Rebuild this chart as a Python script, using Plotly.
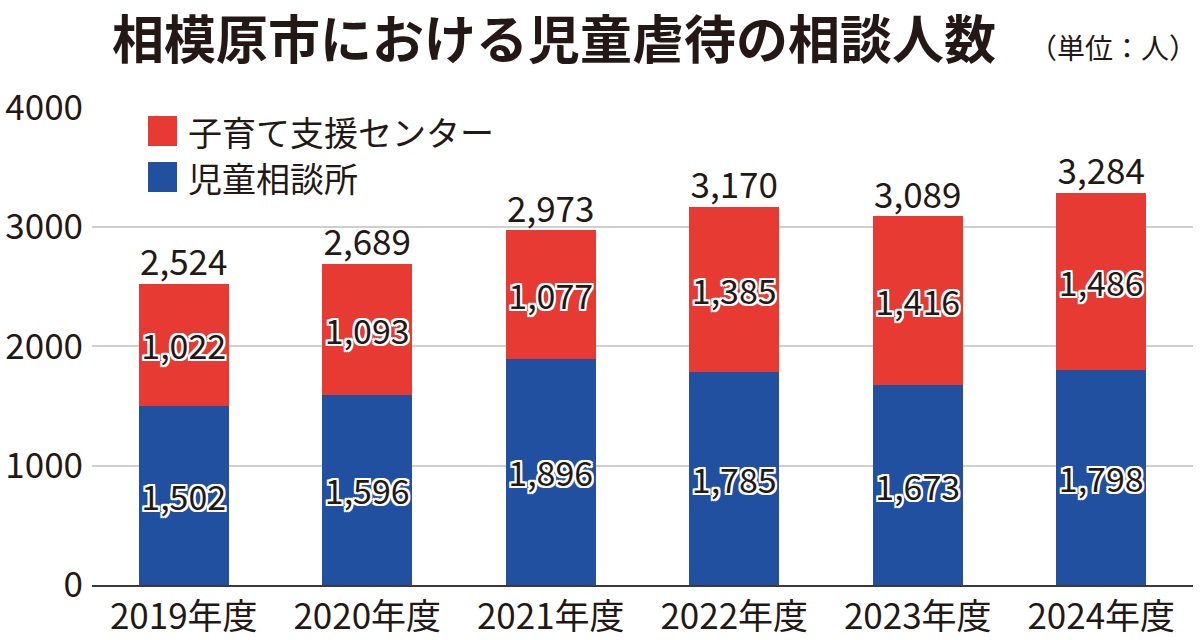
import plotly.graph_objects as go

# data
years = ['2019年度', '2020年度', '2021年度', '2022年度', '2023年度', '2024年度']
jidou_soudanjo = [1502, 1596, 1896, 1785, 1673, 1798]   # 児童相談所
kosodate_center = [1022, 1093, 1077, 1385, 1416, 1486]  # 子育て支援センター
y_ticks = [0, 1000, 2000, 3000, 4000]

totals = [a + b for a, b in zip(jidou_soudanjo, kosodate_center)]

RED = '#E63A33'
BLUE = '#2150A0'
INK = '#231815'
FONT = 'Noto Sans CJK JP'
OUTLINE = ', '.join(f'{dx}px {dy}px 0 #fff' for dx in (-2, 0, 2) for dy in (-2, 0, 2)
                    if (dx, dy) != (0, 0))

# plot area in pixels (used for the hand made legend / unit note)
L, R, T, B = 92, 7, 107, 55
PW, PH = 1200 - L - R, 640 - T - B

fig = go.Figure()

fig.add_trace(go.Bar(
    x=years, y=jidou_soudanjo, name='児童相談所',
    marker=dict(color=BLUE, line=dict(width=0)),
    text=jidou_soudanjo, texttemplate='%{text:,}',
    textposition='inside', insidetextanchor='middle', constraintext='none',
    textangle=0,
    textfont=dict(family=FONT, size=34, color=INK, shadow=OUTLINE),
))
fig.add_trace(go.Bar(
    x=years, y=kosodate_center, name='子育て支援センター',
    marker=dict(color=RED, line=dict(width=0)),
    text=kosodate_center, texttemplate='%{text:,}',
    textposition='inside', insidetextanchor='middle', constraintext='none',
    textangle=0,
    textfont=dict(family=FONT, size=34, color=INK, shadow=OUTLINE),
))

# totals above each stack
fig.add_trace(go.Scatter(
    x=years, y=totals, mode='text',
    text=[f'{t:,}' for t in totals], textposition='top center',
    textfont=dict(family=FONT, size=35, color=INK),
    showlegend=False, hoverinfo='skip',
))

# legend drawn by hand (large squares)
legend_items = [('子育て支援センター', RED, 131), ('児童相談所', BLUE, 177)]
for label, color, yc in legend_items:
    fig.add_shape(type='rect', xref='paper', yref='paper',
                  x0=(148 - L) / PW, x1=(177 - L) / PW,
                  y0=1 - (yc - 15 - T) / PH, y1=1 - (yc + 15 - T) / PH,
                  fillcolor=color, line=dict(width=0))
    fig.add_annotation(xref='paper', yref='paper',
                       x=(186 - L) / PW, y=1 - (yc - T) / PH,
                       xanchor='left', yanchor='middle', showarrow=False,
                       text=label, font=dict(family=FONT, size=34, color=INK))

# unit note next to the title
fig.add_annotation(xref='paper', yref='paper',
                   x=(1028 - L) / PW, y=1 + (T - 47) / PH,
                   xanchor='left', yanchor='middle', showarrow=False, borderpad=0,
                   text='（単位：人）', font=dict(family=FONT, size=28, color=INK))

fig.update_layout(
    barmode='stack',
    bargap=0.51,
    width=1200, height=640,
    margin=dict(l=L, r=R, t=T, b=B, autoexpand=False),
    paper_bgcolor='white', plot_bgcolor='white',
    showlegend=False,
    title=dict(
        text='相模原市における児童虐待の相談人数',
        font=dict(family=FONT, size=52, color=INK, weight='bold'),
        xref='container', yref='container', x=112 / 1200, xanchor='left',
        y=1 - 41 / 640, yanchor='middle',
        automargin=False,
    ),
    xaxis=dict(
        tickfont=dict(family=FONT, size=35, color=INK),
        showline=True, linecolor='#3a3a3a', linewidth=2,
        ticks='', showgrid=False, automargin=False,
    ),
    yaxis=dict(
        range=[0, 4006], tickvals=y_ticks,
        tickfont=dict(family=FONT, size=35, color=INK),
        showgrid=True, gridcolor='#cfcfcf', gridwidth=2,
        zeroline=False, showline=False, ticks='', ticklabelstandoff=8,
        automargin=False,
    ),
)

# the page has a default body margin; drop it so the figure sits at 0,0
fig.write_html('out.html', config={'displayModeBar': False},
               post_script="document.body.style.margin='0';")
